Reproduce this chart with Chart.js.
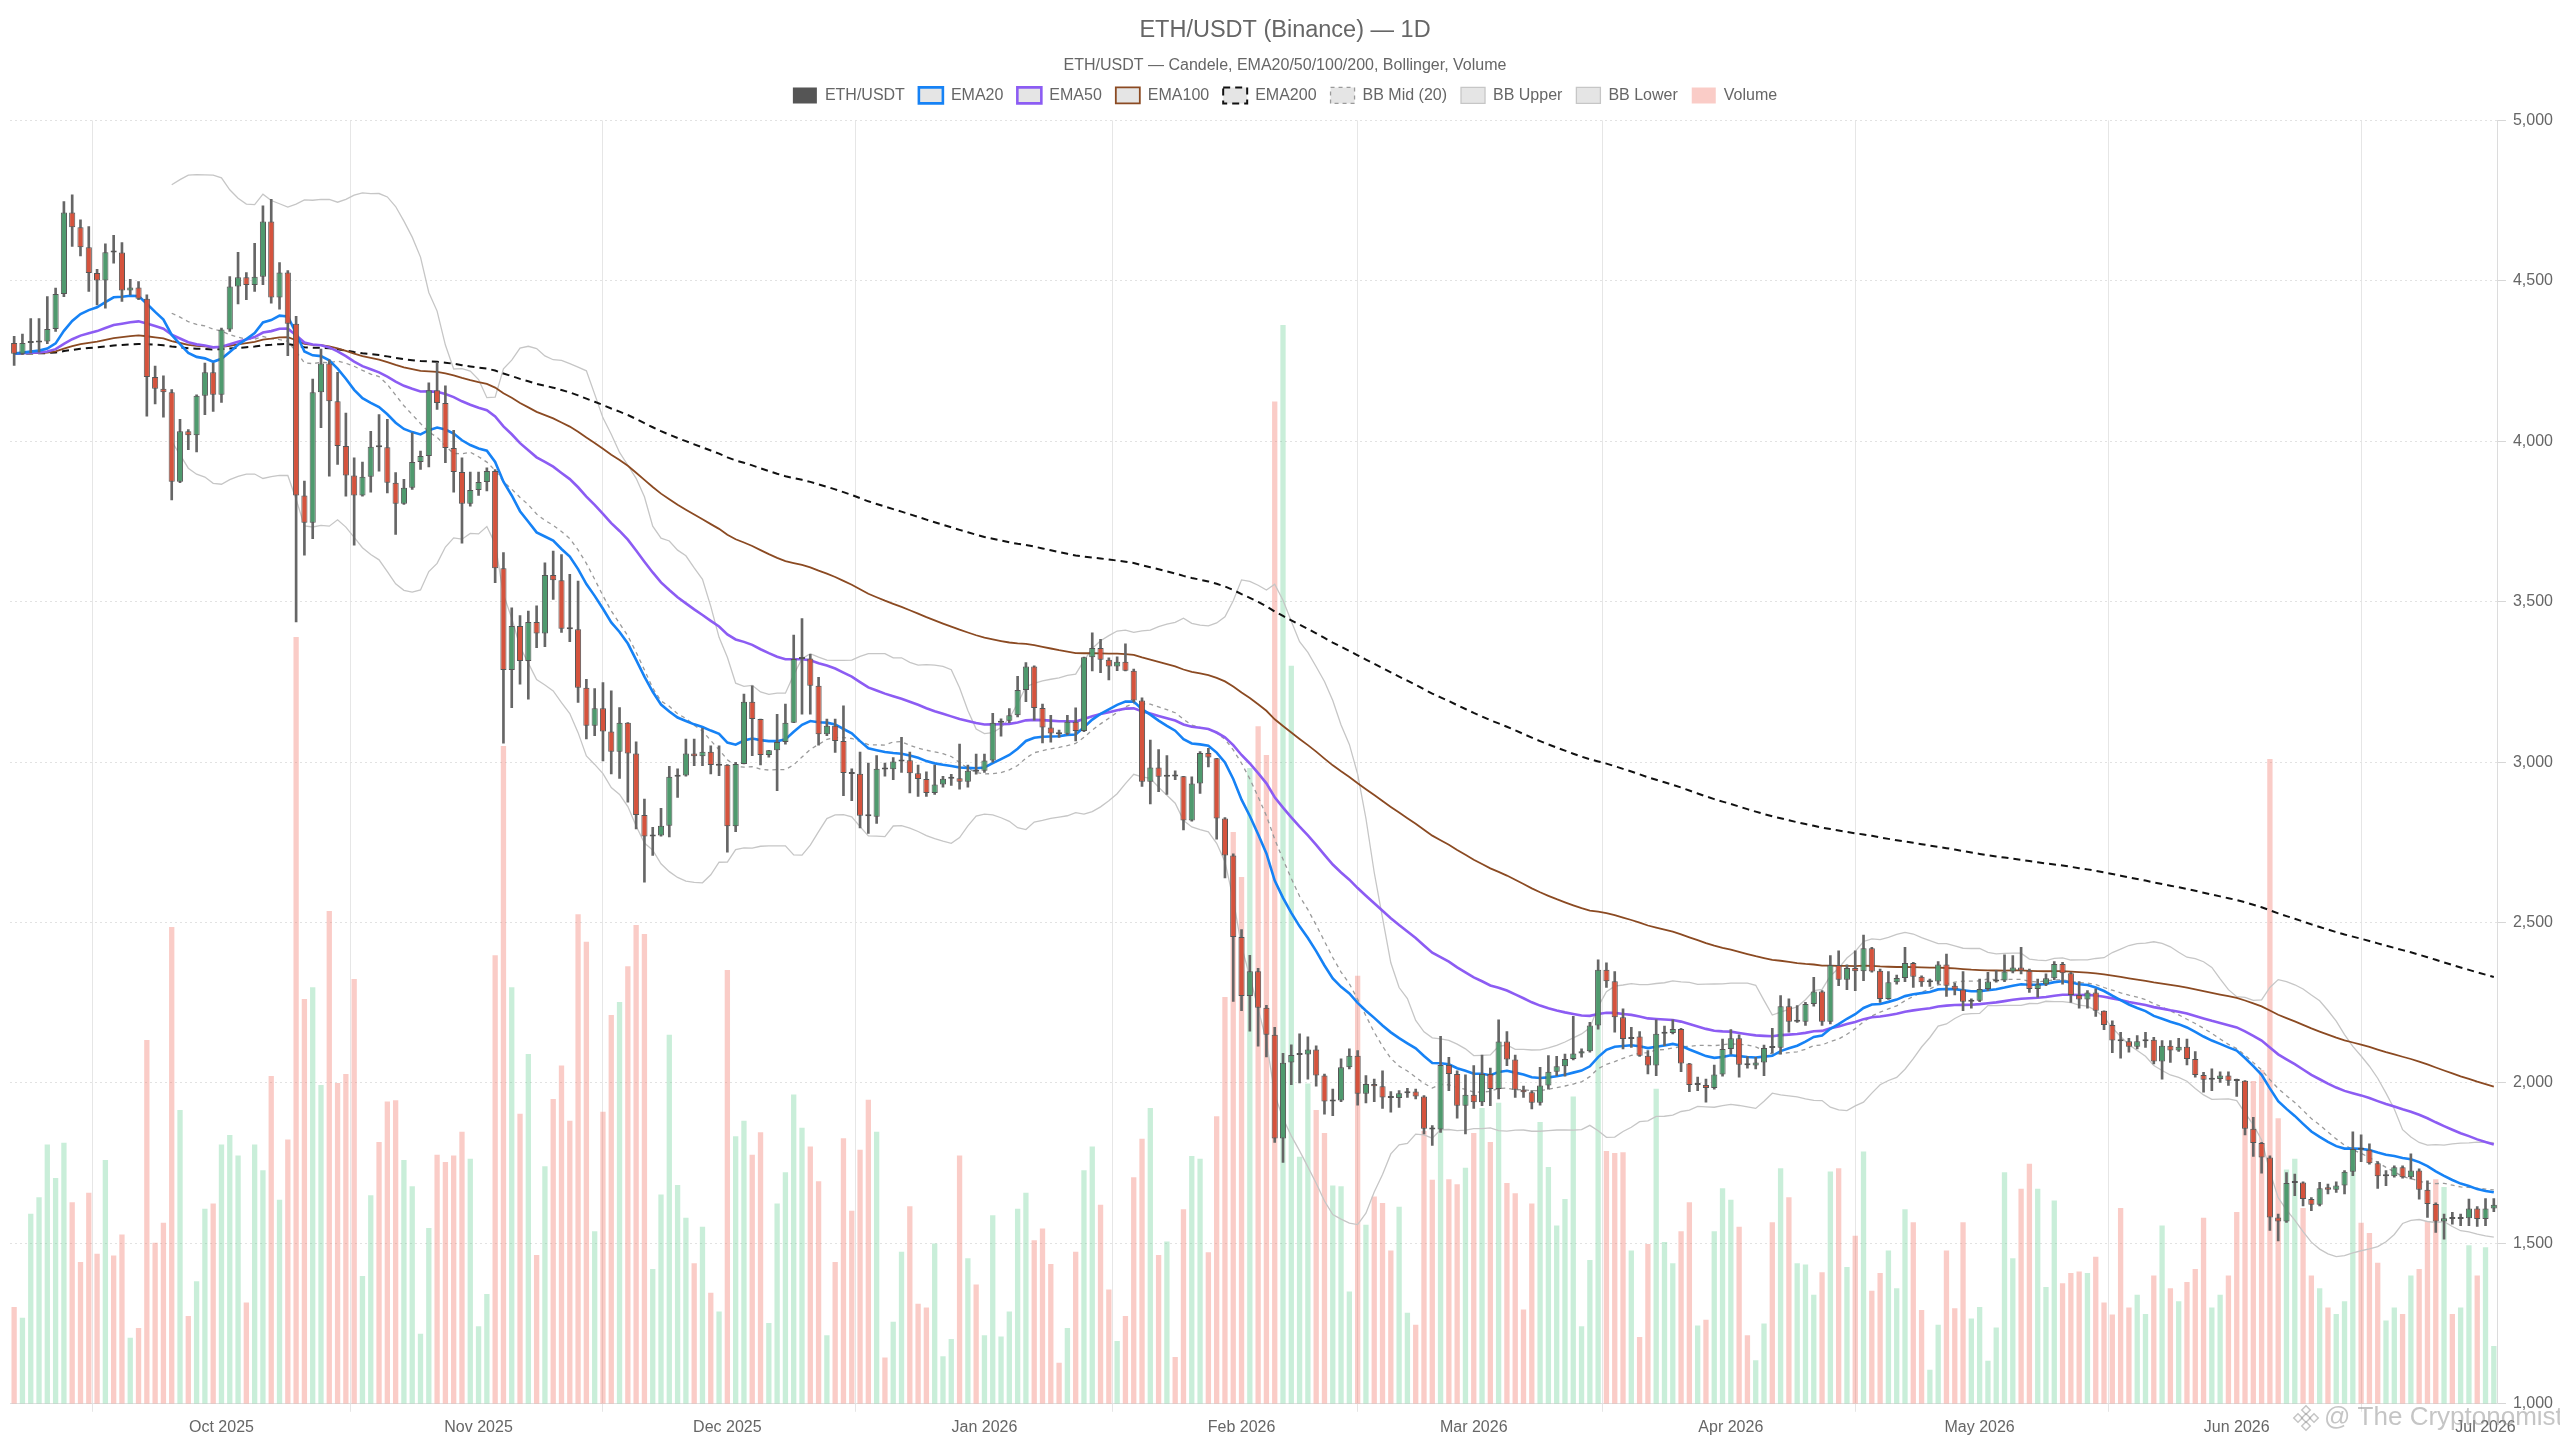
<!DOCTYPE html>
<html lang="it">
<head>
<meta charset="utf-8">
<title>ETH/USDT (Binance) — 1D</title>
<script src="https://cdn.jsdelivr.net/npm/chart.js@4.4.1/dist/chart.umd.min.js"></script>
<style>
  html, body { margin: 0; padding: 0; background: #fff; }
  #wrap { width: 2560px; height: 1440px; }
</style>
</head>
<body>
<div id="wrap"><canvas id="chart" width="2560" height="1440"></canvas></div>
<script>
/* ============================================================
   ETH/USDT daily — candles, EMA20/50/100/200, Bollinger, volume
   ============================================================ */

/* ── Data (one candle per day, starting FIRST_DAY) ─────────── */
const FIRST_DAY = '2025-09-06';

const OPEN = [
  4306,4273,4306,4308,4311,4350,4459,4713,4667,4605, 4524,4501,4590,4588,4470,4479,4444,4200,4164,4153,
  3874,4031,4019,4142,4215,4145,4348,4482,4511,4487, 4513,4685,4448,4526,4366,3831,3746,4153,4242,4125,
  3985,3893,3831,3889,3983,3981,3871,3805,3855,3935, 3954,4159,4119,3979,3904,3805,3848,3873,3907,3604,
  3287,3424,3315,3437,3401,3583,3567,3416,3414,3232, 3113,3168,3095,3032,3123,3027,2835,2768,2771,2802,
  2954,2958,3027,3018,3032,2989,2992,2800,2994,3188, 3134,3022,3037,3063,3123,3321,3323,3238,3087,3113,
  3066,2966,2964,2834,2830,2980,2978,3002,3006,2965, 2947,2904,2930,2948,2950,2939,2975,2973,3005,3123,
  3129,3146,3225,3298,3169,3108,3089,3088,3126,3097, 3327,3356,3319,3298,3313,3285,3192,2939,2983,2954,
  2957,2956,2818,2933,3028,3012,2824,2709,2455,2271, 2348,2234,2150,1827,2064,2087,2089,2104,2023,1942,
  1945,2049,2085,1966,1997,1990,1955,1953,1968,1973, 1958,1857,1855,2056,2028,1929,1963,1940,2028,1981,
  2129,2073,1979,1971,1938,1992,2035,2052,2075,2092, 2099,2179,2353,2317,2205,2137,2145,2085,2054,2153,
  2156,2168,2061,1994,1994,1984,2026,2106,2139,2057, 2054,2064,2111,2110,2239,2191,2191,2246,2285,2191,
  2368,2322,2358,2348,2420,2350,2262,2314,2327,2374, 2331,2314,2316,2369,2303,2291,2253,2256,2293,2316,
  2319,2347,2360,2350,2293,2308,2326,2371,2342,2274, 2260,2282,2225,2181,2132,2130,2113,2130,2135,2067,
  2116,2101,2113,2075,2025,2010,2012,2023,2007,2007, 1857,1813,1768,1581,1568,1688,1690,1638,1620,1675,
  1667,1680,1723,1794,1792,1750,1709,1709,1737,1706, 1727,1667,1623,1568,1578,1576,1578,1609,1576,1609
];

const HIGH = [
  4327,4334,4382,4382,4451,4477,4747,4768,4690,4669, 4536,4615,4642,4619,4505,4498,4456,4234,4204,4161,
  4068,4036,4145,4244,4244,4353,4513,4589,4526,4617, 4734,4754,4557,4532,4389,3876,4194,4287,4254,4215,
  4088,3948,3935,4031,4083,4068,3902,3881,4026,3969, 4182,4246,4173,4034,3948,3904,3904,3917,3912,3653,
  3481,3457,3471,3487,3621,3658,3647,3585,3564,3258, 3229,3248,3222,3170,3123,3063,2885,2797,2856,2987,
  2979,3072,3072,3105,3051,3051,2992,2999,3212,3238, 3134,3037,3149,3181,3396,3447,3336,3264,3134,3134,
  3175,2979,3031,2997,3020,2997,3014,3077,3031,2991, 2970,2991,2956,2962,3056,2991,3025,3025,3152,3135,
  3167,3267,3310,3300,3181,3146,3100,3146,3169,3327, 3403,3383,3325,3328,3369,3290,3200,3069,3039,3020,
  2973,2956,2954,3033,3043,3012,2827,2714,2478,2398, 2357,2242,2173,2092,2119,2153,2144,2116,2028,1981,
  2075,2106,2101,2023,2012,2038,1973,1976,1983,1981, 1961,1867,2145,2080,2038,2025,2054,2087,2046,2197,
  2160,2087,1990,1976,2049,2085,2083,2090,2208,2106, 2189,2384,2374,2347,2231,2173,2160,2101,2197,2177,
  2197,2170,2061,2018,2012,2056,2137,2166,2150,2082, 2080,2118,2170,2272,2262,2241,2251,2329,2288,2397,
  2412,2368,2412,2461,2423,2355,2347,2336,2423,2376, 2334,2324,2378,2402,2311,2347,2262,2324,2345,2350,
  2399,2397,2423,2355,2324,2340,2378,2376,2345,2316, 2288,2293,2225,2194,2158,2139,2148,2158,2142,2132,
  2132,2139,2137,2098,2033,2044,2035,2035,2012,2007, 1893,1815,1773,1591,1721,1716,1692,1643,1690,1685,
  1692,1727,1848,1838,1810,1755,1727,1742,1742,1779, 1732,1695,1626,1591,1597,1591,1638,1615,1640,1640
];

const LOW = [
  4236,4270,4275,4278,4304,4342,4451,4607,4578,4467, 4425,4415,4555,4436,4456,4441,4078,4116,4075,3817,
  3871,3974,3967,4083,4093,4121,4342,4428,4441,4467, 4488,4430,4412,4267,3437,3645,3696,4042,3891,3928,
  3829,3676,3829,3841,3907,3839,3710,3803,3850,3912, 3920,4099,3933,3841,3682,3798,3831,3845,3559,3059,
  3170,3243,3196,3357,3360,3507,3404,3375,3186,3072, 3082,3004,2963,2949,2875,2792,2626,2709,2769,2767,
  2890,2956,2989,2989,2963,2958,2719,2783,2994,3020, 2991,3015,2911,3056,3123,3149,3149,3053,3082,3030,
  2895,2880,2795,2778,2809,2956,2945,2968,2904,2893, 2893,2899,2922,2927,2916,2922,2962,2968,3000,3081,
  3123,3141,3188,3131,3060,3062,3077,3085,3066,3095, 3284,3279,3256,3285,3284,3187,2924,2870,2908,2899,
  2945,2789,2816,2902,2985,2760,2639,2254,2225,2161, 2115,2081,1815,1752,1995,2000,2012,1990,1903,1898,
  1942,2044,1931,1938,1942,1921,1909,1924,1955,1950, 1841,1805,1846,1976,1890,1841,1921,1929,1929,1950,
  2054,1955,1955,1919,1931,1981,2023,2021,2072,2080, 2096,2168,2298,2158,2106,2111,2083,2028,2023,2116,
  2153,2035,1973,1976,1940,1981,2021,2090,2018,2046, 2044,2023,2093,2090,2158,2189,2179,2239,2179,2184,
  2303,2291,2288,2319,2345,2251,2260,2308,2316,2298, 2301,2301,2308,2270,2274,2225,2233,2253,2288,2314,
  2316,2343,2340,2282,2267,2303,2322,2308,2251,2233, 2233,2207,2166,2094,2077,2096,2106,2111,2059,2012,
  2064,2098,2056,2018,1971,1976,2002,1992,1958,1838, 1771,1719,1540,1508,1565,1649,1617,1602,1617,1654,
  1659,1654,1711,1755,1747,1671,1680,1706,1703,1701, 1638,1581,1534,1513,1560,1555,1555,1553,1555,1599
];

const CLOSE = [
  4273,4306,4310,4312,4350,4459,4713,4667,4605,4524, 4501,4589,4588,4470,4479,4444,4200,4164,4153,3874,
  4031,4019,4142,4215,4145,4348,4482,4511,4487,4513, 4685,4448,4526,4366,3831,3746,4153,4242,4125,3985,
  3893,3831,3889,3983,3981,3871,3805,3855,3935,3954, 4159,4119,3979,3904,3805,3848,3873,3907,3604,3287,
  3424,3315,3437,3401,3583,3567,3416,3414,3232,3113, 3168,3095,3032,3123,3027,2835,2768,2771,2802,2954,
  2958,3027,3018,3032,2991,2992,2800,2994,3188,3134, 3022,3037,3063,3123,3321,3323,3238,3087,3113,3066,
  2966,2963,2833,2831,2979,2977,3002,3006,2965,2947, 2904,2930,2948,2951,2939,2973,2970,3005,3123,3129,
  3146,3225,3298,3169,3108,3089,3087,3126,3097,3327, 3356,3319,3298,3313,3285,3192,2939,2983,2954,2957,
  2955,2818,2933,3028,3014,2824,2709,2455,2271,2348, 2234,2150,1827,2063,2087,2089,2104,2023,1942,1945,
  2049,2085,1966,1997,1990,1955,1953,1968,1971,1958, 1857,1855,2056,2028,1929,1963,1940,2028,1981,2129,
  2073,1979,1971,1938,1992,2035,2052,2075,2092,2099, 2179,2353,2317,2205,2137,2140,2085,2054,2153,2156,
  2168,2061,1994,1996,1984,2026,2106,2139,2057,2055, 2064,2109,2109,2239,2191,2193,2246,2285,2191,2368,
  2322,2358,2348,2420,2347,2262,2314,2327,2374,2331, 2314,2316,2369,2303,2291,2253,2256,2293,2316,2319,
  2347,2360,2350,2293,2308,2326,2371,2342,2274,2260, 2282,2225,2181,2132,2130,2113,2130,2132,2067,2116,
  2101,2113,2075,2025,2010,2012,2023,2007,2006,1857, 1813,1768,1581,1568,1688,1690,1638,1620,1672,1667,
  1680,1723,1794,1792,1750,1709,1711,1737,1706,1727, 1667,1623,1568,1578,1576,1578,1609,1576,1609,1620
];

// Daily volume, thousand ETH
const VOLUME = [
  151,134,296,322,404,352,407,314,221,329, 234,380,231,264,103,118,567,251,282,743,
  458,137,191,304,312,404,419,387,158,404, 364,511,318,412,1195,631,649,497,768,500,
  514,662,199,325,408,471,473,380,339,109, 274,388,377,387,424,382,121,171,699,1025,
  649,452,545,232,370,475,527,441,763,720, 269,455,606,626,682,746,732,210,326,575,
  341,290,219,276,173,144,676,417,441,388, 423,126,312,361,482,430,401,347,107,221,
  414,301,396,474,424,72,128,237,308,156, 150,250,74,101,387,227,186,107,294,105,
  144,304,329,255,273,218,64,118,237,364, 401,310,178,98,137,353,413,461,232,253,
  73,303,386,382,236,448,634,891,821,991, 1056,1011,1562,1681,1150,385,499,458,422,340,
  339,175,667,279,323,313,239,307,142,123, 425,349,474,350,342,368,422,461,408,469,
  344,328,147,312,439,369,278,319,479,121, 224,600,394,391,392,239,104,249,491,252,
  219,269,314,122,131,269,336,318,276,107, 68,125,283,367,322,219,217,170,205,362,
  367,213,262,393,176,204,239,180,303,283, 146,53,123,239,149,283,133,151,67,119,
  361,227,335,374,335,182,317,188,204,206, 204,229,158,139,305,150,170,140,200,278,
  180,160,190,210,290,150,170,200,299,467, 503,520,1005,445,365,382,305,200,180,150,
  140,160,370,282,266,220,130,150,140,200, 210,285,350,338,140,150,247,200,244,90
];

const MONTH_TICK_LABELS = ['Oct 2025', 'Nov 2025', 'Dec 2025', 'Jan 2026', 'Feb 2026',
                           'Mar 2026', 'Apr 2026', 'May 2026', 'Jun 2026', 'Jul 2026'];
const MONTH_TICK_DATES  = ['2025-10-01', '2025-11-01', '2025-12-01', '2026-01-01', '2026-02-01',
                           '2026-03-01', '2026-04-01', '2026-05-01', '2026-06-01', '2026-07-01'];

/* ── Helpers ───────────────────────────────────────────────── */
const DAY_MS = 86400000;
const dayIndex = iso => Math.round((Date.parse(iso) - Date.parse(FIRST_DAY)) / DAY_MS);
const N = CLOSE.length;
const IDX = CLOSE.map((_, i) => i);

function ema(values, n) {
  const k = 2 / (n + 1);
  const out = [];
  values.forEach((v, i) => out.push(i === 0 ? v : v * k + out[i - 1] * (1 - k)));
  return out;
}

function bollinger(values, n, mult) {
  const mid = [], up = [], lo = [];
  values.forEach((_, i) => {
    if (i < n - 1) { mid.push(null); up.push(null); lo.push(null); return; }
    const win = values.slice(i - n + 1, i + 1);
    const m = win.reduce((a, b) => a + b, 0) / n;
    const sd = Math.sqrt(win.reduce((a, b) => a + (b - m) * (b - m), 0) / n);
    mid.push(m); up.push(m + mult * sd); lo.push(m - mult * sd);
  });
  return { mid, up, lo };
}

const xy = arr => arr.map((v, i) => ({ x: i, y: v }));

const isUp     = IDX.map(i => CLOSE[i] >= OPEN[i]);
const BB       = bollinger(CLOSE, 20, 2);
const TICK_IDX = MONTH_TICK_DATES.map(dayIndex);

/* ── Colours ───────────────────────────────────────────────── */
const UP_BODY   = '#4f9a6e';
const DOWN_BODY = '#d5533d';
const UP_VOL    = 'rgba(76, 200, 130, 0.30)';
const DOWN_VOL  = 'rgba(240, 110, 95, 0.35)';

/* ── Plugins ───────────────────────────────────────────────── */
// a bit of air between the legend row and the plot
const legendGap = {
  id: 'legendGap',
  beforeInit(chart) {
    const fit = chart.legend.fit;
    chart.legend.fit = function () { fit.call(this); this.height += 7; };
  }
};

const watermark = {
  id: 'watermark',
  afterDraw(chart) {
    const { ctx } = chart;
    ctx.save();
    ctx.strokeStyle = 'rgba(150,150,150,0.55)';
    ctx.lineWidth = 1.5;
    const cx = 2306, cy = 1418;
    [[0, -8], [-8, 0], [8, 0], [0, 8], [0, 0]].forEach(([dx, dy]) => {
      ctx.save();
      ctx.translate(cx + dx, cy + dy);
      ctx.rotate(Math.PI / 4);
      ctx.strokeRect(-3, -3, 6, 6);
      ctx.restore();
    });
    ctx.font = '26px "Liberation Sans", Arial, sans-serif';
    ctx.fillStyle = 'rgba(150,150,150,0.55)';
    ctx.textBaseline = 'middle';
    ctx.fillText('@ The Cryptonomist', 2324, 1418);
    ctx.restore();
  }
};

Chart.defaults.font.family = '"Liberation Sans", Arial, sans-serif';
Chart.defaults.color = '#666';

/* ── Chart ─────────────────────────────────────────────────── */
new Chart(document.getElementById('chart'), {
  type: 'bar',
  data: {
    datasets: [
      {
        label: 'ETH/USDT',
        data: IDX.map(i => ({ x: i, y: [OPEN[i], CLOSE[i]] })),
        backgroundColor: IDX.map(i => isUp[i] ? UP_BODY : DOWN_BODY),
        borderColor: '#555',
        borderWidth: 1,
        borderSkipped: false,
        minBarLength: 2,
        barPercentage: 0.74,
        categoryPercentage: 1,
        grouped: false,
        order: 0,
        legendFill: '#555',
      },
      { type: 'line', label: 'EMA20',  data: xy(ema(CLOSE, 20)),  borderColor: '#1682f5', borderWidth: 2.6, order: 2 },
      { type: 'line', label: 'EMA50',  data: xy(ema(CLOSE, 50)),  borderColor: '#8c5cf3', borderWidth: 2.6, order: 3 },
      { type: 'line', label: 'EMA100', data: xy(ema(CLOSE, 100)), borderColor: '#8b4a22', borderWidth: 1.8, order: 4 },
      { type: 'line', label: 'EMA200', data: xy(ema(CLOSE, 200)), borderColor: '#111', borderWidth: 2, borderDash: [7, 5], order: 5 },
      { type: 'line', label: 'BB Mid (20)', data: xy(BB.mid), borderColor: '#9a9a9a', borderWidth: 1.3, borderDash: [4, 4], order: 6 },
      { type: 'line', label: 'BB Upper',    data: xy(BB.up),  borderColor: '#c6c6c6', borderWidth: 1.3, order: 7 },
      { type: 'line', label: 'BB Lower',    data: xy(BB.lo),  borderColor: '#c6c6c6', borderWidth: 1.3, order: 8 },
      {
        label: 'Volume',
        data: xy(VOLUME),
        yAxisID: 'yVol',
        backgroundColor: IDX.map(i => isUp[i] ? UP_VOL : DOWN_VOL),
        borderWidth: 0,
        barPercentage: 0.64,
        categoryPercentage: 1,
        grouped: false,
        order: 10,
        legendFill: 'rgba(240, 110, 95, 0.35)',
      },
      {
        label: 'wick',
        data: IDX.map(i => ({ x: i, y: [LOW[i], HIGH[i]] })),
        backgroundColor: '#666',
        borderWidth: 0,
        barThickness: 2,
        grouped: false,
        order: 1,
        hideInLegend: true,
      },
    ],
  },
  options: {
    responsive: false,
    animation: false,
    devicePixelRatio: 1,
    layout: { padding: { left: 10, right: 0, top: 0, bottom: -3 } },
    elements: { point: { radius: 0 }, line: { tension: 0 } },
    plugins: {
      title: {
        display: true,
        text: 'ETH/USDT (Binance) — 1D',
        color: '#666',
        font: { size: 23.5, weight: 'normal' },
        padding: { top: 16, bottom: 12 },
      },
      subtitle: {
        display: true,
        text: 'ETH/USDT — Candele, EMA20/50/100/200, Bollinger, Volume',
        color: '#666',
        font: { size: 16 },
        padding: { top: 0, bottom: -2 },
      },
      legend: {
        labels: {
          color: '#666',
          font: { size: 16 },
          boxWidth: 24,
          boxHeight: 16,
          padding: 14,
          generateLabels(chart) {
            const items = Chart.defaults.plugins.legend.labels.generateLabels(chart);
            return items
              .filter(it => !chart.data.datasets[it.datasetIndex].hideInLegend)
              .map(it => {
                const ds = chart.data.datasets[it.datasetIndex];
                if (ds.legendFill) { it.fillStyle = ds.legendFill; it.strokeStyle = ds.legendFill; it.lineWidth = 0; }
                return it;
              });
          },
        },
      },
      tooltip: { enabled: false },
    },
    scales: {
      x: {
        type: 'linear',
        min: -0.5,
        max: N - 0.5,
        offset: false,
        afterBuildTicks: axis => { axis.ticks = TICK_IDX.map(v => ({ value: v })); },
        ticks: {
          autoSkip: false,
          maxRotation: 0,
          color: '#666',
          font: { size: 16 },
          padding: 6,
          callback: (v, i) => MONTH_TICK_LABELS[i],
        },
        grid: { offset: true, color: '#e6e6e6', tickLength: 8 },
        border: { color: '#e0e0e0' },
      },
      y: {
        position: 'right',
        min: 1000,
        max: 5000,
        ticks: { stepSize: 500, color: '#666', font: { size: 16 }, padding: 7 },
        grid: { color: '#e2e2e2', tickColor: '#d6d6d6', tickLength: 8 },
        border: { dash: [2, 3], color: '#dcdcdc' },
      },
      yVol: { display: false, min: 0, max: 2000 },
    },
  },
  plugins: [legendGap, watermark],
});
</script>
</body>
</html>
